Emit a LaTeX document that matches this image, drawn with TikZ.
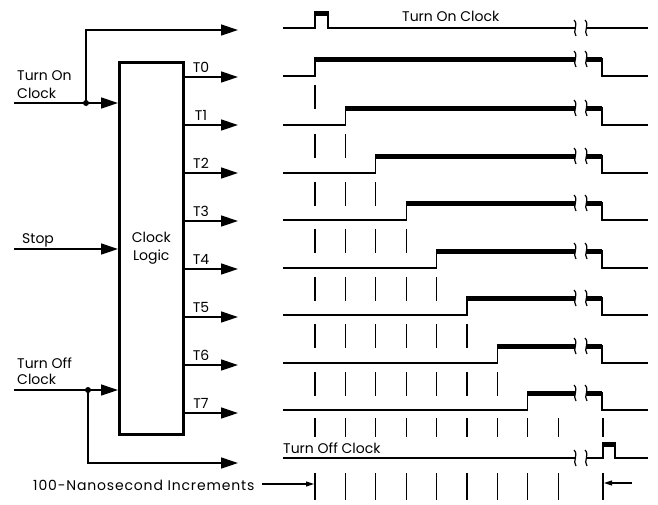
\documentclass[tikz,border=0pt]{standalone}
\usepackage{fontspec}
\setmainfont{Poppins}
\usetikzlibrary{arrows.meta}
\begin{document}
\begin{tikzpicture}[x=1pt,y=-1pt,
  sig/.style={line width=1.3pt},
  hi/.style={line width=4.2pt},
  tk/.style={line width=1.2pt},
  arr/.style={line width=1.4pt,-{Triangle[length=17pt,width=11pt]}},
  sarr/.style={line width=1.1pt,-{Triangle[length=8pt,width=5pt]}},
  lbl/.style={inner sep=0pt,font=\fontsize{14}{16}\selectfont},
  brk/.pic={\draw[line width=1.2pt] (-1,-8) .. controls (4,-3) and (-3,3) .. (1,8);
            \draw[line width=1.2pt] (10,-8) .. controls (15,-3) and (8,3) .. (12,8);}]
\useasboundingbox (0,0) rectangle (658,504);
% ---------- block ----------
\node[draw,line width=2.5pt,minimum width=64pt,minimum height=372pt,anchor=north west,
      inner sep=0pt,align=center,font=\fontsize{14}{18}\selectfont] (box) at (118,61) {Clock\\Logic};
% inputs
\coordinate (onin) at (14,103);
\coordinate (ondot) at (86,103);
\coordinate (ontop) at (238,30);
\draw[sig] (onin) -- (ondot);
\draw[arr] (ondot) -- (box.west |- ondot);
\draw[arr] (ondot) |- (ontop);
\fill (ondot) circle (3pt);
\node[lbl,anchor=base west] (onlbl) at (17,80) {Turn On};
\node[lbl,anchor=base west] (onlbl2) at (17,98) {Clock};
\coordinate (stopin) at (14,249);
\draw[arr] (stopin) -- (box.west |- stopin);
\node[lbl,anchor=base west] (stoplbl) at (22,243) {Stop};
\coordinate (offin) at (14,390);
\coordinate (offdot) at (88,390);
\coordinate (offbot) at (238,463);
\draw[sig] (offin) -- (offdot);
\draw[arr] (offdot) -- (box.west |- offdot);
\draw[arr] (offdot) |- (offbot);
\fill (offdot) circle (3pt);
\node[lbl,anchor=base west] (offlbl) at (17,368) {Turn Off};
\node[lbl,anchor=base west] (offlbl2) at (17,384) {Clock};
% outputs
\foreach \i/\y in {0/77,1/125,2/173,3/221,4/269,5/317,6/365,7/413}{
  \coordinate (t\i) at (238,\y);
  \draw[arr] (box.east |- t\i) -- (t\i);
  \node[lbl,anchor=base] (tl\i) at (201,\y-5) {T\i};
}
% ---------- waveforms ----------
% Turn On Clock
\draw[sig] (283,28) -- (315,28) -- (315,12) -- (328,12) -- (328,28) -- (575,28);
\draw[hi] (315,13.5) -- (328,13.5);
\pic at (575,28) {brk};
\draw[sig] (586,28) -- (648,28);
\node[lbl,anchor=base west] (wonlbl) at (402,21) {Turn On Clock};
% T rows
\foreach \n/\b in {0/76,1/125,2/173,3/220,4/268,5/315,6/363,7/410}{
  \pgfmathsetmacro\rx{315+30.4*\n}
  \draw[sig] (283,\b) -- (\rx,\b) -- (\rx,\b-18);
  \draw[hi] (\rx-0.6,\b-16.5) -- (575,\b-16.5);
  \draw[hi] (586,\b-16.5) -- (602,\b-16.5);
  \draw[sig] (602,\b-18) -- (602,\b) -- (648,\b);
  \pic at (575,\b-17) {brk};
}
% ticks
\foreach \n/\b in {0/76,1/125,2/173,3/220,4/268,5/315,6/363}{
  \foreach \c in {0,...,\n}{
    \draw[tk] (315+30.4*\c,\b+9) -- (315+30.4*\c,\b+33);
  }
}
\foreach \c in {0,...,8}{
  \draw[tk] (315+30.4*\c,418) -- (315+30.4*\c,437);
  \draw[tk] (315+30.4*\c,473) -- (315+30.4*\c,500);
}
\draw[tk] (603,418) -- (603,437);
\draw[tk] (603,473) -- (603,500);
% Turn Off Clock
\draw[sig] (283,458) -- (575,458);
\pic at (575,458) {brk};
\draw[sig] (586,458) -- (603,458) -- (603,443) -- (615,443) -- (615,458) -- (648,458);
\draw[hi] (603,444.5) -- (615,444.5);
\node[lbl,anchor=base west] (wofflbl) at (283,453) {Turn Off Clock};
% increments
\node[lbl,anchor=base west] (inclbl) at (33,490) {\addfontfeature{LetterSpace=6}100-Nanosecond Increments};
\coordinate (incA) at (262,484);
\coordinate (incB) at (314,484);
\coordinate (incC) at (632,483);
\coordinate (incD) at (604,483);
\draw[sarr] (incA) -- (incB);
\draw[sarr] (incC) -- (incD);
\end{tikzpicture}
\end{document}
